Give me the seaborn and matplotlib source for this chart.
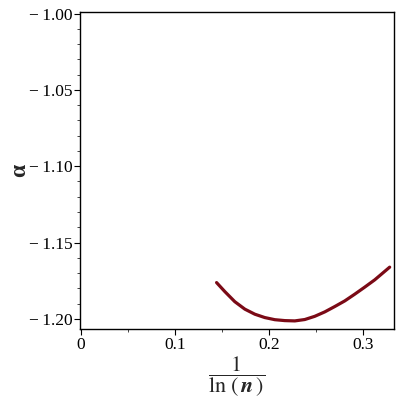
import numpy as np
import pandas as pd
import matplotlib
matplotlib.use('Agg')
import matplotlib.pyplot as plt
import seaborn as sns
from matplotlib.ticker import MultipleLocator, FuncFormatter

# values
inv_ln_n = [0.1444, 0.1532, 0.1638, 0.1745, 0.1851, 0.1957, 0.2064, 0.2170,
            0.2277, 0.2383, 0.2489, 0.2596, 0.2702, 0.2809, 0.2915, 0.3021,
            0.3128, 0.3287]
alpha = [-1.1762, -1.1821, -1.1887, -1.1936, -1.1969, -1.1991, -1.2005, -1.2011,
         -1.2013, -1.2004, -1.1983, -1.1954, -1.1919, -1.1882, -1.1838, -1.1792,
         -1.1744, -1.1661]

df = pd.DataFrame({'x': inv_ln_n, 'alpha': alpha})

sns.set_style('ticks')
plt.rcParams['font.family'] = ['Liberation Serif', 'DejaVu Serif']
plt.rcParams['mathtext.fontset'] = 'stix'

fig = plt.figure(figsize=(4, 4), dpi=100)
ax = fig.add_axes([0.2, 0.1775, 0.785, 0.7925])

sns.lineplot(data=df, x='x', y='alpha', ax=ax, color='#7b0a16', linewidth=2.3)

ax.set_xlim(-0.001, 0.3333)
ax.set_ylim(-1.2066, -0.999)

ax.xaxis.set_major_locator(MultipleLocator(0.1))
ax.xaxis.set_minor_locator(MultipleLocator(0.05))
ax.yaxis.set_major_locator(MultipleLocator(0.05))
ax.yaxis.set_minor_locator(MultipleLocator(0.01))
ax.xaxis.set_major_formatter(FuncFormatter(lambda v, p: '0' if abs(v) < 1e-9 else f'{v:.1f}'))
ax.yaxis.set_major_formatter(FuncFormatter(lambda v, p: f'\u2212\u2009{abs(v):.2f}' if v < 0 else f'{v:.2f}'))

for s in ax.spines.values():
    s.set_linewidth(1.0)
    s.set_color('black')
ax.tick_params(which='major', direction='out', length=4, width=0.8, labelsize=12.5,
               colors='black', pad=1.5)
ax.tick_params(which='minor', direction='out', length=2.5, width=0.6)
ax.tick_params(top=False, right=False)

ax.set_xlabel(r'$\dfrac{1}{\ln\,(\,\boldsymbol{n}\,)}$', fontsize=16, labelpad=1)
ax.set_ylabel('α', fontsize=17, fontweight='bold', labelpad=-1)

fig.savefig('out.png', dpi=100)
